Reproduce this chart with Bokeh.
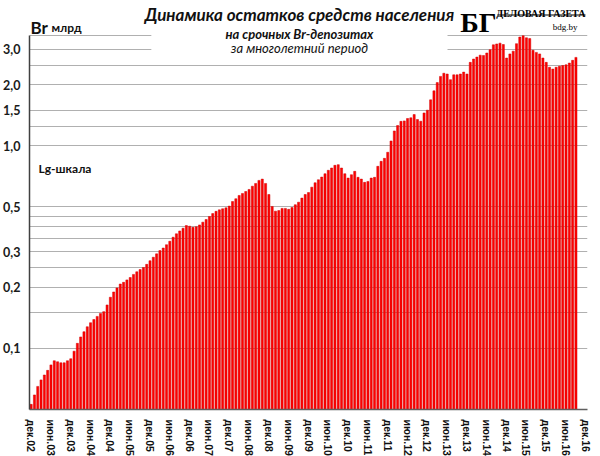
from bokeh.plotting import figure
from bokeh.models import (Range1d, FixedTicker, CustomJSTickFormatter, Label,
                          BoxAnnotation, ColumnDataSource)
from bokeh.embed import file_html
from bokeh.resources import INLINE

# ---- data: monthly balances, Br bn (dec 2002 .. sep 2016) ----
y2002 = [0.053]
y2003 = [0.059, 0.065, 0.070, 0.074, 0.078, 0.083, 0.087, 0.086, 0.085, 0.085, 0.087, 0.089]
y2004 = [0.097, 0.106, 0.114, 0.121, 0.128, 0.134, 0.139, 0.144, 0.149, 0.152, 0.164, 0.179]
y2005 = [0.190, 0.199, 0.208, 0.212, 0.218, 0.224, 0.232, 0.239, 0.245, 0.251, 0.260, 0.271]
y2006 = [0.282, 0.293, 0.304, 0.313, 0.325, 0.338, 0.354, 0.368, 0.380, 0.392, 0.404, 0.401]
y2007 = [0.396, 0.399, 0.407, 0.420, 0.433, 0.448, 0.463, 0.475, 0.483, 0.489, 0.494, 0.504]
y2008 = [0.531, 0.548, 0.569, 0.582, 0.595, 0.609, 0.632, 0.652, 0.675, 0.685, 0.652, 0.575]
y2009 = [0.502, 0.476, 0.479, 0.491, 0.491, 0.486, 0.496, 0.512, 0.527, 0.552, 0.575, 0.588]
y2010 = [0.625, 0.657, 0.680, 0.701, 0.728, 0.757, 0.777, 0.801, 0.807, 0.777, 0.728, 0.693]
y2011 = [0.720, 0.748, 0.699, 0.685, 0.660, 0.667, 0.693, 0.699, 0.792, 0.838, 0.867, 0.929]
y2012 = [1.056, 1.184, 1.259, 1.320, 1.327, 1.364, 1.374, 1.426, 1.348, 1.322, 1.452, 1.499]
y2013 = [1.686, 1.867, 2.05, 2.20, 2.28, 2.26, 2.12, 2.24, 2.24, 2.26, 2.31, 2.26]
y2014 = [2.58, 2.68, 2.74, 2.80, 2.79, 2.87, 2.98, 3.15, 3.18, 3.21, 3.16, 2.71]
y2015 = [2.84, 2.93, 3.19, 3.44, 3.49, 3.41, 3.38, 2.96, 2.89, 2.84, 2.71, 2.58]
y2016 = [2.44, 2.39, 2.44, 2.47, 2.49, 2.51, 2.56, 2.64, 2.73]

tick_labels = ["дек.02", "июн.03", "дек.03", "июн.04", "дек.04", "июн.05", "дек.05",
               "июн.06", "дек.06", "июн.07", "дек.07", "июн.08", "дек.08", "июн.09",
               "дек.09", "июн.10", "дек.10", "июн.11", "дек.11", "июн.12", "дек.12",
               "июн.13", "дек.13", "июн.14", "дек.14", "июн.15", "дек.15", "июн.16",
               "дек.16"]
y_label_ticks = [0.1, 0.2, 0.3, 0.5, 1.0, 1.5, 2.0, 3.0]
grid_values = [0.1, 0.15, 0.2, 0.25, 0.3, 0.35, 0.4, 0.45, 0.5, 1.0, 1.25, 1.5, 2.0, 2.5, 3.0, 3.5]

values = (y2002 + y2003 + y2004 + y2005 + y2006 + y2007 + y2008 + y2009 + y2010 +
          y2011 + y2012 + y2013 + y2014 + y2015 + y2016)
months = list(range(len(values)))
Y_MIN, Y_MAX = 0.05, 3.5      # value axis extent
Y_TOP = 5.21                  # headroom for the title block inside the frame
N_SLOTS = 6 * (len(tick_labels) - 1)

src = ColumnDataSource(dict(x=months, top=values, bottom=[Y_MIN] * len(values)))

p = figure(frame_width=558, frame_height=409, output_backend="svg", toolbar_location=None,
           y_axis_type="log", x_range=Range1d(-0.5, N_SLOTS + 0.5),
           y_range=Range1d(Y_MIN, Y_TOP),
           min_border_left=22, min_border_right=4, min_border_top=0, min_border_bottom=0)
p.outline_line_color = None
p.background_fill_color = None
p.border_fill_color = None

# grid lines
p.xgrid.visible = False
p.ygrid.ticker = FixedTicker(ticks=grid_values)
p.ygrid.grid_line_color = "#b0b0b0"
p.ygrid.grid_line_width = 1

p.vbar(x="x", top="top", bottom="bottom", width=0.64, source=src,
       fill_color="#ff0000", line_color="#d00000", line_width=0.5)

# y axis
ya = p.yaxis[0]
ya.bounds = (Y_MIN, Y_MAX)
ya.ticker = FixedTicker(ticks=y_label_ticks)
ya.formatter = CustomJSTickFormatter(code="return tick.toFixed(1).replace('.', ',');")
ya.major_label_text_font = "Lato"
ya.major_label_text_font_style = "bold"
ya.major_label_text_font_size = "12.5px"
ya.major_label_text_color = "#1a1a1a"
ya.major_tick_line_color = None
ya.minor_tick_line_color = None
ya.major_label_standoff = 3
ya.axis_line_color = "#404040"
ya.axis_line_width = 1.5

# x axis
xa = p.xaxis[0]
xa.ticker = FixedTicker(ticks=[6 * i for i in range(len(tick_labels))])
xa.major_label_overrides = {6 * i: lab for i, lab in enumerate(tick_labels)}
xa.major_label_orientation = "vertical"
xa.major_label_text_font = "Liberation Sans"
xa.major_label_text_font_style = "bold"
xa.major_label_text_font_size = "10.5px"
xa.major_label_text_color = "#111111"
xa.major_tick_line_color = None
xa.minor_tick_line_color = None
xa.major_label_standoff = 4
xa.axis_line_color = "#606060"
xa.axis_line_width = 1.5

# title block background (hides grid lines behind the title)
p.add_layout(BoxAnnotation(left=36.4, right=126.1, bottom=2.72, top=Y_TOP,
                           fill_color="white", fill_alpha=1.0, line_color=None))

def lab(text, x, y, size, style="bold", font="Lato", align="left", baseline="alphabetic", color="#111111"):
    p.add_layout(Label(x=x, y=y, x_units="screen", y_units="screen", text=text,
                       text_font=font, text_font_size=size, text_font_style=style,
                       text_align=align, text_baseline=baseline, text_color=color))

lab("Динамика остатков средств населения", 270, 395, "17px", "bold italic", align="center", baseline="middle")
lab("на срочных Br-депозитах", 270, 376, "13px", "bold italic", align="center", baseline="middle")
lab("за многолетний период", 270, 362, "13px", "italic", align="center", baseline="middle")

lab("Br", 1, 382, "17px", "bold")
lab("млрд", 22, 382, "12px", "bold")
lab("Lg-шкала", 9, 241, "12px", "bold", baseline="middle")

# logo
lab("БГ", 467, 387, "28px", "bold", font="Liberation Serif", color="#000000", align="right")
lab("ДЕЛОВАЯ ГАЗЕТА", 556, 396, "10px", "bold", font="Liberation Serif", color="#000000", align="right")
p.add_layout(BoxAnnotation(left=141.2, right=167.9, bottom=4.39, top=4.45,
                           fill_color="black", fill_alpha=1.0, line_color=None))
lab("bdg.by", 548, 383, "9px", "normal", font="Liberation Serif", color="#000000", align="right")

open("out.html", "w").write(file_html(p, INLINE))
